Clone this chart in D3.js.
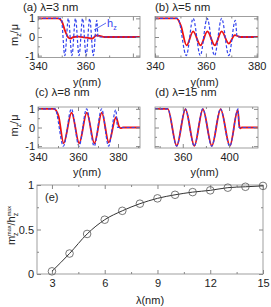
<!DOCTYPE html>
<html>
<head>
<meta charset="utf-8">
<script src="https://cdn.jsdelivr.net/npm/d3@7"></script>
<style>
  body { margin: 0; background: #fff; }
  text { font-family: "Liberation Sans", Arial, sans-serif; }
</style>
</head>
<body>
<div id="chart"></div>
<script>
// [y(nm), value] pairs
// (a) lambda = 3 nm
const hzA = [[340,1],[349.8,1],[351.3,-1],[352.8,1],[354.3,-1],[355.8,1],[357.3,-1],[358.8,1],[360.3,-1],[361.8,1],[363.3,-1],[364.8,0.9],[365.3,0],[383,0]];
const mzA = [[340,1],[348.5,1],[350,0.85],[351.5,0.3],[352.7,-0.02],[353.7,-0.08],[355,0],[357,0.02],[359.5,-0.02],[361.5,-0.06],[363,-0.08],[364.5,0.08],[366,0.06],[368,0],[383,0]];
// (b) lambda = 5 nm
const hzB = [[340,1],[349,1],[352.3,-1],[355,1],[357.8,-1],[360.5,1],[363.4,-1],[366.2,1],[369,-1],[371.6,0.9],[372.3,0],[380.5,0]];
const mzB = [[340,1],[348.5,1],[350.2,0.6],[352.4,-0.45],[355,0.3],[357.9,-0.45],[360.6,0.3],[363.5,-0.45],[366.2,0.3],[369,-0.35],[371.4,0.1],[373.5,0],[380.5,0]];
// (c) lambda = 8 nm
const hzC = [[340,1],[348.5,1],[352.7,-1],[356.7,1],[360.5,-1],[364.3,1],[368.1,-1],[371.8,1],[375.3,-1],[378.9,0.95],[379.8,0],[391,0]];
const mzC = [[340,1],[348,1],[350.3,0.6],[352.8,-0.85],[356.8,0.8],[360.6,-0.85],[364.4,0.8],[368.2,-0.85],[371.9,0.8],[375.4,-0.8],[379,0.55],[380.5,0.05],[381.3,-0.03],[382.5,0],[391,0]];
// (d) lambda = 15 nm
const hzD = [[336,1],[347,1],[354.7,-1],[362.2,1],[369.9,-1],[377.3,1],[385,-1],[392.6,1],[400.6,-1],[407.8,1],[408.6,0],[425,0]];
const mzD = [[336,1],[347,1],[354.8,-0.98],[362.3,0.98],[370,-0.98],[377.4,0.98],[385.1,-0.98],[392.7,0.98],[400.7,-0.98],[407.6,0.95],[408.8,0.1],[409.8,-0.05],[411,0],[425,0]];
// (e) ratio vs lambda
const lambdas = [3,4,5,6,7,8,9,10,11,12,13,14,15];
const ratio = [0.03,0.23,0.45,0.61,0.71,0.79,0.85,0.89,0.92,0.94,0.97,0.98,0.99];

const width = 271, height = 307;
const red = "#ee1111", blue = "#3344ee", frame = "#888";

const svg = d3.select("#chart").append("svg")
    .attr("width", width)
    .attr("height", height);

const panels = [
    { title: "(a) λ=3 nm", tx: 23, ty: 11, left: 38, right: 140, top: 16.5, bottom: 57.5, xd: [340, 383], xt: [340, 360, 380], xl: [340, 360], xm: [350, 370], hz: hzA, mz: mzA, ylab: true },
    { title: "(b) λ=5 nm", tx: 155, ty: 11, left: 155, right: 258, top: 16.5, bottom: 57.5, xd: [340, 380.5], xt: [340, 360, 380], xl: [340, 360, 380], xm: [350, 370], hz: hzB, mz: mzB },
    { title: "(c) λ=8 nm", tx: 35, ty: 96, left: 38, right: 140, top: 107, bottom: 148, xd: [340, 391], xt: [340, 360, 380], xl: [340, 360, 380], xm: [350, 370, 390], hz: hzC, mz: mzC, ylab: true },
    { title: "(d) λ=15 nm", tx: 155, ty: 96, left: 155, right: 258, top: 107, bottom: 148, xd: [336, 425], xt: [360, 400], xl: [360, 400], xm: [340, 380, 420], hz: hzD, mz: mzD }
];

function styleAxis(g) {
    g.attr("font-family", null).attr("font-size", null);
    g.select(".domain").remove();
    g.selectAll("line").attr("stroke", frame);
    g.selectAll("text").attr("fill", "#222").style("font-size", "11px");
}

panels.forEach(function (p, i) {
    const x = d3.scaleLinear().domain(p.xd).range([p.left, p.right]);
    const y = d3.scaleLinear().domain([-1.1, 1.1]).range([p.bottom, p.top]);

    svg.append("clipPath").attr("id", "clip" + i)
        .append("rect")
        .attr("x", p.left).attr("y", p.top)
        .attr("width", p.right - p.left).attr("height", p.bottom - p.top);

    const line = d3.line()
        .x(d => x(d[0]))
        .y(d => y(d[1]))
        .curve(d3.curveMonotoneX);

    const plot = svg.append("g").attr("clip-path", `url(#clip${i})`);
    plot.append("path").datum(p.mz)
        .attr("d", line).attr("fill", "none")
        .attr("stroke", red).attr("stroke-width", 1.8);
    plot.append("path").datum(p.hz)
        .attr("d", line).attr("fill", "none")
        .attr("stroke", blue).attr("stroke-width", 1.2)
        .attr("stroke-dasharray", "3,2");

    // axes, ticks pointing inward and mirrored on all sides
    svg.append("g").attr("transform", `translate(0,${p.bottom})`)
        .call(d3.axisBottom(x).tickValues(p.xt).tickSize(-4).tickPadding(5)
            .tickFormat(d => p.xl.includes(d) ? d : ""))
        .call(styleAxis);
    svg.append("g").attr("transform", `translate(0,${p.bottom})`)
        .call(d3.axisBottom(x).tickValues(p.xm).tickSize(-2).tickFormat(""))
        .call(styleAxis);
    svg.append("g").attr("transform", `translate(0,${p.top})`)
        .call(d3.axisTop(x).tickValues(p.xt).tickSize(-4).tickFormat(""))
        .call(styleAxis);
    svg.append("g").attr("transform", `translate(0,${p.top})`)
        .call(d3.axisTop(x).tickValues(p.xm).tickSize(-2).tickFormat(""))
        .call(styleAxis);

    svg.append("g").attr("transform", `translate(${p.left},0)`)
        .call(d3.axisLeft(y).tickValues([-1, 0, 1]).tickSize(-4).tickPadding(3)
            .tickFormat(d => p.ylab ? d : ""))
        .call(styleAxis);
    svg.append("g").attr("transform", `translate(${p.left},0)`)
        .call(d3.axisLeft(y).tickValues([-0.5, 0.5]).tickSize(-2).tickFormat(""))
        .call(styleAxis);
    svg.append("g").attr("transform", `translate(${p.right},0)`)
        .call(d3.axisRight(y).tickValues([-1, 0, 1]).tickSize(-4).tickFormat(""))
        .call(styleAxis);
    svg.append("g").attr("transform", `translate(${p.right},0)`)
        .call(d3.axisRight(y).tickValues([-0.5, 0.5]).tickSize(-2).tickFormat(""))
        .call(styleAxis);

    svg.append("rect")
        .attr("x", p.left).attr("y", p.top)
        .attr("width", p.right - p.left).attr("height", p.bottom - p.top)
        .attr("fill", "none").attr("stroke", frame).attr("stroke-width", 0.8);

    svg.append("text")
        .attr("x", p.tx).attr("y", p.ty)
        .style("font-size", "11.5px").attr("fill", "#222")
        .text(p.title);

    svg.append("text")
        .attr("x", (p.left + p.right) / 2 - 2).attr("y", p.bottom + 28)
        .attr("text-anchor", "middle")
        .style("font-size", "11px").attr("fill", "#222")
        .text("y(nm)");

    if (p.ylab) {
        const t = svg.append("text")
            .attr("transform", `translate(18,${(p.top + p.bottom) / 2 - 2}) rotate(-90)`)
            .attr("text-anchor", "middle")
            .style("font-size", "11px").attr("fill", "#222");
        t.append("tspan").text("m");
        t.append("tspan").text("z").style("font-size", "7px").attr("dy", 2.5);
        t.append("tspan").text("/μ").attr("dy", -2.5);
    }
});

// h_z annotation in panel (a)
svg.append("line")
    .attr("x1", 94).attr("y1", 30).attr("x2", 106).attr("y2", 23)
    .attr("stroke", blue).attr("stroke-width", 0.8);
const hl = svg.append("text")
    .attr("x", 107).attr("y", 27)
    .style("font-size", "11px").attr("fill", blue);
hl.append("tspan").text("h");
hl.append("tspan").text("z").style("font-size", "7px").attr("dy", 2.5);

/*
PANEL (e)
*/
const e = { left: 37, right: 263, top: 185, bottom: 274 };
const xE = d3.scaleLinear().domain([2.15, 15]).range([e.left, e.right]);
const yE = d3.scaleLinear().domain([0, 1]).range([e.bottom, e.top]);

svg.append("g").attr("transform", `translate(0,${e.bottom})`)
    .call(d3.axisBottom(xE).tickValues([3, 6, 9, 12, 15]).tickSize(-4).tickPadding(5))
    .call(styleAxis);
svg.append("g").attr("transform", `translate(0,${e.bottom})`)
    .call(d3.axisBottom(xE).tickValues([4.5, 7.5, 10.5, 13.5]).tickSize(-2).tickFormat(""))
    .call(styleAxis);
svg.append("g").attr("transform", `translate(0,${e.top})`)
    .call(d3.axisTop(xE).tickValues([3, 6, 9, 12, 15]).tickSize(-4).tickFormat(""))
    .call(styleAxis);
svg.append("g").attr("transform", `translate(0,${e.top})`)
    .call(d3.axisTop(xE).tickValues([4.5, 7.5, 10.5, 13.5]).tickSize(-2).tickFormat(""))
    .call(styleAxis);
svg.append("g").attr("transform", `translate(${e.left},0)`)
    .call(d3.axisLeft(yE).tickValues([0, 0.5, 1]).tickSize(-4).tickPadding(3).tickFormat(d3.format("~g")))
    .call(styleAxis);
svg.append("g").attr("transform", `translate(${e.left},0)`)
    .call(d3.axisLeft(yE).tickValues([0.25, 0.75]).tickSize(-2).tickFormat(""))
    .call(styleAxis);
svg.append("g").attr("transform", `translate(${e.right},0)`)
    .call(d3.axisRight(yE).tickValues([0, 0.5, 1]).tickSize(-4).tickFormat(""))
    .call(styleAxis);
svg.append("g").attr("transform", `translate(${e.right},0)`)
    .call(d3.axisRight(yE).tickValues([0.25, 0.75]).tickSize(-2).tickFormat(""))
    .call(styleAxis);

svg.append("rect")
    .attr("x", e.left).attr("y", e.top)
    .attr("width", e.right - e.left).attr("height", e.bottom - e.top)
    .attr("fill", "none").attr("stroke", frame).attr("stroke-width", 0.8);

const ePts = lambdas.map((l, i) => [l, ratio[i]]);
svg.append("path").datum(ePts)
    .attr("d", d3.line().x(d => xE(d[0])).y(d => yE(d[1])).curve(d3.curveMonotoneX))
    .attr("fill", "none").attr("stroke", "#333").attr("stroke-width", 1);

svg.selectAll("circle.pt").data(ePts).enter()
    .append("circle")
    .attr("class", "pt")
    .attr("cx", d => xE(d[0]))
    .attr("cy", d => yE(d[1]))
    .attr("r", 3.8)
    .attr("fill", "none")
    .attr("stroke", "#555")
    .attr("stroke-width", 0.8);

svg.append("text")
    .attr("x", 45).attr("y", 201)
    .style("font-size", "11px").attr("fill", "#222")
    .text("(e)");

svg.append("text")
    .attr("x", (e.left + e.right) / 2).attr("y", 304)
    .attr("text-anchor", "middle")
    .style("font-size", "11px").attr("fill", "#222")
    .text("λ(nm)");

const yl = svg.append("text")
    .attr("transform", `translate(15,${(e.top + e.bottom) / 2 - 4}) rotate(-90)`)
    .attr("text-anchor", "middle")
    .style("font-size", "11px").attr("fill", "#222");
yl.append("tspan").text("m");
yl.append("tspan").text("z").style("font-size", "7px").attr("dy", 2.5);
yl.append("tspan").text("max").style("font-size", "5.5px").attr("dx", -3.5).attr("dy", -6.5);
yl.append("tspan").text("/h").attr("dy", 4);
yl.append("tspan").text("z").style("font-size", "7px").attr("dy", 2.5);
yl.append("tspan").text("max").style("font-size", "5.5px").attr("dx", -3.5).attr("dy", -6.5);
</script>
</body>
</html>
